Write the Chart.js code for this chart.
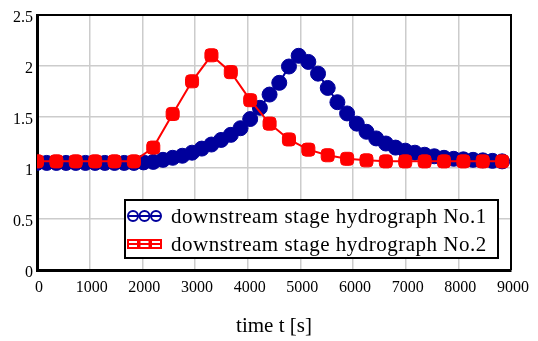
<!DOCTYPE html>
<html>
<head>
<meta charset="utf-8">
<script src="https://cdn.jsdelivr.net/npm/chart.js@4"></script>
<style>
  body { margin: 0; background: #fff; }
  canvas { display: block; }
</style>
</head>
<body>
<canvas id="hydro" width="538" height="341"></canvas>
<script>
const xTicks = [0, 1000, 2000, 3000, 4000, 5000, 6000, 7000, 8000, 9000];
const yTicks = [0, 0.5, 1, 1.5, 2, 2.5];

const labelNo1 = 'downstream stage hydrograph No.1';
const labelNo2 = 'downstream stage hydrograph No.2';

// time [s] and stage for hydrograph No.1 (blue circles)
const timeNo1 = [0, 184, 368, 552, 736, 920, 1104, 1288, 1472, 1656, 1840, 2024, 2208, 2392, 2576, 2760,
    2944, 3128, 3312, 3496, 3680, 3864, 4048, 4232, 4416, 4600, 4784, 4968, 5152, 5336, 5520, 5704,
    5888, 6072, 6256, 6440, 6624, 6808, 6992, 7176, 7360, 7544, 7728, 7912, 8096, 8280, 8464, 8648, 8832];
const stageNo1 = [1.05, 1.05, 1.05, 1.05, 1.05, 1.05, 1.05, 1.05, 1.05, 1.05, 1.05, 1.055, 1.06, 1.08, 1.10, 1.12,
    1.15, 1.19, 1.23, 1.275, 1.325, 1.39, 1.48, 1.59, 1.72, 1.835, 1.995, 2.10, 2.04, 1.925, 1.785, 1.645,
    1.535, 1.435, 1.355, 1.29, 1.24, 1.20, 1.17, 1.15, 1.13, 1.115, 1.10, 1.09, 1.085, 1.08, 1.075, 1.07, 1.065];

// time [s] and stage for hydrograph No.2 (red squares)
const timeNo2 = [0, 368, 736, 1104, 1472, 1840, 2208, 2576, 2944, 3312, 3680, 4048, 4416, 4784, 5152, 5520,
    5888, 6256, 6624, 6992, 7360, 7728, 8096, 8464, 8832];
const stageNo2 = [1.065, 1.065, 1.065, 1.065, 1.065, 1.065, 1.20, 1.53, 1.85, 2.105, 1.94, 1.665, 1.435, 1.28, 1.18, 1.125,
    1.09, 1.075, 1.065, 1.065, 1.065, 1.065, 1.065, 1.065, 1.065];

const blue = '#00009c';
const red = '#ff0000';
const serif = '"Liberation Serif", "Times New Roman", serif';

const toPoints = (xs, ys) => xs.map((x, i) => ({x: x, y: ys[i]}));

// box legend inside the plot, like the original
const boxLegend = {
    id: 'boxLegend',
    afterDatasetsDraw(chart) {
        const {ctx, chartArea: a} = chart;
        ctx.save();
        ctx.strokeStyle = '#000';
        ctx.lineWidth = 2;
        ctx.beginPath();
        ctx.moveTo(a.left, a.top);
        ctx.lineTo(a.right, a.top);
        ctx.lineTo(a.right, a.bottom);
        ctx.stroke();
        ctx.restore();
    },
    afterDraw(chart) {
        const ctx = chart.ctx;
        const box = {x: 125, y: 200, w: 373, h: 58};
        ctx.save();
        ctx.fillStyle = '#fff';
        ctx.fillRect(box.x, box.y, box.w, box.h);
        ctx.strokeStyle = '#000';
        ctx.lineWidth = 2;
        ctx.strokeRect(box.x, box.y, box.w, box.h);

        chart.data.datasets.forEach((ds, i) => {
            const y = 216 + i * 28;
            ctx.strokeStyle = ds.borderColor;
            ctx.lineWidth = 2;
            ctx.beginPath();
            ctx.moveTo(128, y);
            ctx.lineTo(161, y);
            ctx.stroke();
            [133, 144.5, 156].forEach(cx => {
                ctx.beginPath();
                if (ds.pointStyle === 'circle') {
                    ctx.arc(cx, y, 5, 0, Math.PI * 2);
                } else {
                    ctx.rect(cx - 5, y - 4, 10, 8);
                }
                ctx.stroke();
            });
            ctx.fillStyle = '#000';
            ctx.font = '21px ' + serif;
            ctx.letterSpacing = '0.5px';
            ctx.textBaseline = 'middle';
            ctx.textAlign = 'left';
            ctx.fillText(ds.label, 171, y + 1);
        });
        ctx.restore();
    }
};

new Chart(document.getElementById('hydro'), {
    type: 'scatter',
    data: {
        datasets: [
            {
                label: labelNo1,
                data: toPoints(timeNo1, stageNo1),
                showLine: true,
                borderColor: blue,
                backgroundColor: blue,
                borderWidth: 2,
                pointStyle: 'circle',
                pointRadius: 7.5,
                pointBorderWidth: 1,
                order: 1,
            },
            {
                label: labelNo2,
                data: toPoints(timeNo2, stageNo2),
                showLine: true,
                borderColor: red,
                backgroundColor: red,
                borderWidth: 2,
                pointStyle: 'rectRounded',
                pointRadius: 7.6,
                pointBorderWidth: 1,
                order: 0,
            },
        ]
    },
    options: {
        responsive: false,
        animation: false,
        layout: {padding: {top: 15, right: 27, left: 0, bottom: 0}},
        plugins: {
            legend: {display: false},
            tooltip: {enabled: false},
        },
        scales: {
            x: {
                type: 'linear',
                min: 0,
                max: 9000,
                afterBuildTicks: (axis) => { axis.ticks = xTicks.map(v => ({value: v})); },
                afterFit: (axis) => { axis.height = 71; axis.paddingLeft = 0; axis.paddingRight = 0; },
                ticks: {
                    color: '#000',
                    font: {family: serif, size: 16},
                    padding: 8,
                    labelOffset: 2,
                    maxRotation: 0,
                    callback: (v) => String(v),
                },
                grid: {color: '#cccccc', lineWidth: 1.5, drawTicks: false},
                border: {display: true, color: '#000', width: 3},
                title: {
                    display: true,
                    text: 'time t [s]',
                    color: '#000',
                    font: {family: serif, size: 21},
                    padding: {top: 0, bottom: 2},
                },
            },
            y: {
                min: 0,
                max: 2.5,
                afterBuildTicks: (axis) => { axis.ticks = yTicks.map(v => ({value: v})); },
                afterFit: (axis) => { axis.width = 37; },
                ticks: {
                    color: '#000',
                    font: {family: serif, size: 16},
                    padding: 4,
                    labelOffset: 3,
                    callback: (v) => String(v),
                },
                grid: {color: '#cccccc', lineWidth: 1.5, drawTicks: false},
                border: {display: true, color: '#000', width: 3},
            },
        },
    },
    plugins: [boxLegend],
});
</script>
</body>
</html>
